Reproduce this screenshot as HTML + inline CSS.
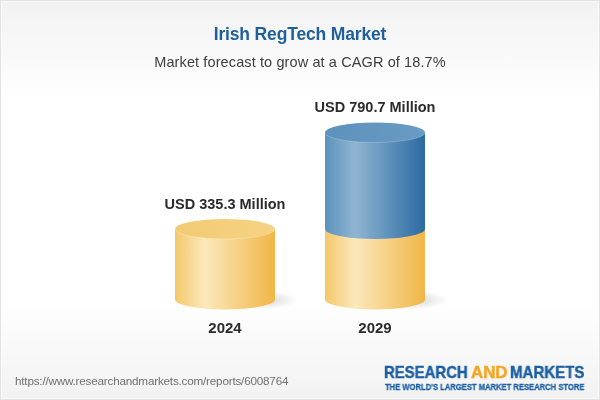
<!DOCTYPE html>
<html>
<head>
<meta charset="utf-8">
<title>Irish RegTech Market</title>
<style>
  html, body { margin:0; padding:0; }
  body { width:600px; height:400px; overflow:hidden; background:#fff; font-family:"Liberation Sans", sans-serif; }
  #card { position:relative; width:600px; height:400px; box-shadow: inset 0 0 0 1px #e2e2e2, inset 0 0 0 2px rgba(255,255,255,0.55); overflow:hidden;
    background: linear-gradient(to bottom, #f2f2f2 0px, #ffffff 100px, #ffffff 300px, #f2f2f2 400px); }
  .t { position:absolute; white-space:nowrap; line-height:1; will-change:transform; }
  #title { left:0; width:600px; text-align:center; top:26.2px; font-size:17.5px; letter-spacing:-0.16px; font-weight:bold; color:#1f5f9e; }
  #sub { left:0; width:600px; text-align:center; top:55px; font-size:14.5px; letter-spacing:0.11px; color:#3e3e3e; }
  .val { font-weight:bold; font-size:14.5px; color:#2b2b2b; text-align:center; width:200px; }
  .yr { font-weight:bold; font-size:15px; color:#2b2b2b; text-align:center; width:200px; }
  #url { left:15px; top:375px; font-size:11.7px; letter-spacing:-0.2px; color:#707070; }
  .lg { top:365px; font-size:15.7px; font-weight:bold; color:#1c60a2; -webkit-text-stroke:0.45px #1c60a2; transform-origin:0 50%; }
  .lg.and { color:#f5a623; -webkit-text-stroke:0.45px #f5a623; }
  #logo2 { left:385px; top:383.2px; font-size:8.4px; font-weight:bold; color:#1c60a2; -webkit-text-stroke:0.3px #1c60a2; transform-origin:0 50%; transform:scaleX(0.91); }
  svg { position:absolute; left:0; top:0; }
</style>
</head>
<body>
<div id="card">
<svg width="600" height="400" viewBox="0 0 600 400">
  <defs>
    <linearGradient id="gy" x1="0" y1="0" x2="1" y2="0">
      <stop offset="0" stop-color="#f3c869"/>
      <stop offset="0.3" stop-color="#fbe8bc"/>
      <stop offset="1" stop-color="#f1b646"/>
    </linearGradient>
    <linearGradient id="gb" x1="0" y1="0" x2="1" y2="0">
      <stop offset="0" stop-color="#5b92bd"/>
      <stop offset="0.3" stop-color="#90b5d2"/>
      <stop offset="1" stop-color="#2a6aa2"/>
    </linearGradient>
    <linearGradient id="ty" x1="0" y1="0" x2="1" y2="0">
      <stop offset="0" stop-color="#f3cb74"/>
      <stop offset="1" stop-color="#f5d283"/>
    </linearGradient>
    <linearGradient id="tb" x1="0" y1="0" x2="1" y2="0">
      <stop offset="0" stop-color="#5c92bd"/>
      <stop offset="1" stop-color="#699bc3"/>
    </linearGradient>
    <radialGradient id="sh" cx="0.5" cy="0.5" r="0.5">
      <stop offset="0" stop-color="#000" stop-opacity="0.17"/>
      <stop offset="1" stop-color="#000" stop-opacity="0"/>
    </radialGradient>
  </defs>
  <!-- shadows -->
  <ellipse cx="262" cy="300" rx="36" ry="9.5" fill="url(#sh)"/>
  <ellipse cx="412" cy="300" rx="36" ry="9.5" fill="url(#sh)"/>
  <!-- cylinder 1 -->
  <path d="M175 229 L175 299.4 A50 10 0 0 0 275 299.4 L275 229 Z" fill="url(#gy)"/>
  <ellipse cx="225" cy="229" rx="50" ry="10" fill="url(#ty)"/>
  <path d="M175 229 A50 10 0 0 0 275 229" fill="none" stroke="#fff" stroke-opacity="0.3" stroke-width="0.8"/>
  <!-- cylinder 2 -->
  <path d="M325 229 L325 299.4 A50 10 0 0 0 425 299.4 L425 229 Z" fill="url(#gy)"/>
  <path d="M325 132.5 L325 229 A50 10 0 0 0 425 229 L425 132.5 Z" fill="url(#gb)"/>
  <ellipse cx="375" cy="132.5" rx="50" ry="10" fill="url(#tb)"/>
  <path d="M325 132.5 A50 10 0 0 0 425 132.5" fill="none" stroke="#fff" stroke-opacity="0.25" stroke-width="0.8"/>
</svg>
<div class="t" id="title">Irish RegTech Market</div>
<div class="t" id="sub">Market forecast to grow at a CAGR of 18.7%</div>
<div class="t val" style="left:125px; top:196.5px;">USD 335.3 Million</div>
<div class="t val" style="left:275px; top:99.5px;">USD 790.7 Million</div>
<div class="t yr" style="left:125px; top:319.5px;">2024</div>
<div class="t yr" style="left:275px; top:319.5px;">2029</div>
<div class="t" id="url">https://www.researchandmarkets.com/reports/6008764</div>
<div class="t lg" id="lgR" style="left:383.6px; transform:scaleX(0.95);">RESEARCH</div>
<div class="t lg and" id="lgA" style="left:471px; transform:scaleX(1.075);">AND</div>
<div class="t lg" id="lgM" style="left:509.8px; transform:scaleX(0.96);">MARKETS</div>
<div class="t" id="logo2">THE WORLD'S LARGEST MARKET RESEARCH STORE</div>
</div>
</body>
</html>
